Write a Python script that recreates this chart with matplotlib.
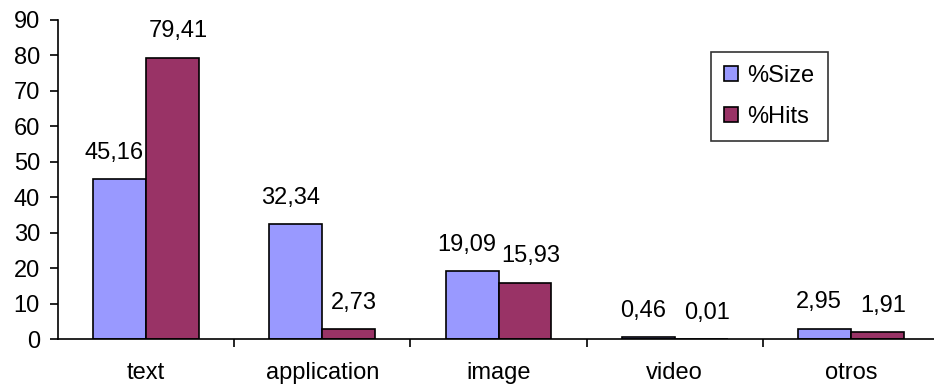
import numpy as np
import matplotlib.pyplot as plt

plt.rcParams['font.family'] = ['Liberation Sans', 'DejaVu Sans']

categories = ['text', 'application', 'image', 'video', 'otros']
size_pct = [45.16, 32.34, 19.09, 0.46, 2.95]
hits_pct = [79.41, 2.73, 15.93, 0.01, 1.91]

fs = 17

fig = plt.figure(figsize=(9.34, 3.88), dpi=100)
# axis runs off the right edge of the figure
ax = fig.add_axes([58 / 934, 49 / 388, 881 / 934, 319 / 388])

x = np.arange(len(categories))
w = 0.30
b1 = ax.bar(x - w / 2, size_pct, w, color='#9999FF', edgecolor='black', linewidth=1.2, label='%Size')
b2 = ax.bar(x + w / 2, hits_pct, w, color='#993366', edgecolor='black', linewidth=1.2, label='%Hits')

for bars, vals, dx in ((b1, size_pct, -4), (b2, hits_pct, 4)):
    for r, v in zip(bars, vals):
        ax.annotate(f'{v:.2f}'.replace('.', ','), (r.get_x() + r.get_width() / 2, v),
                    xytext=(dx, 11), textcoords='offset points',
                    ha='center', va='bottom', fontsize=fs)

ax.set_xlim(-0.5, len(categories) - 0.5)
ax.set_ylim(0, 90)
ax.set_yticks(range(0, 91, 10))
ax.set_xticks(x)
ax.set_xticklabels(categories)
ax.set_xticks(np.arange(0.5, len(categories) - 0.5), minor=True)
ax.tick_params(axis='x', which='major', length=0, pad=16.5, labelsize=fs)
ax.tick_params(axis='x', which='minor', length=6, width=1.2, direction='out')
ax.tick_params(axis='y', length=6, width=1.2, direction='out', labelsize=fs, pad=7)

for s in ('top', 'right'):
    ax.spines[s].set_visible(False)
for s in ('left', 'bottom'):
    ax.spines[s].set_linewidth(1.2)

leg = ax.legend(loc='upper left', bbox_to_anchor=((711 - 58) / 881, (339 - 52) / 319),
                frameon=True, fancybox=False, fontsize=fs, handlelength=0.6, handleheight=0.6,
                handletextpad=0.4, labelspacing=0.8, borderpad=0.55, borderaxespad=0)
leg.get_frame().set_edgecolor('black')
leg.get_frame().set_linewidth(1.2)

fig.savefig('out.png', dpi=100)
